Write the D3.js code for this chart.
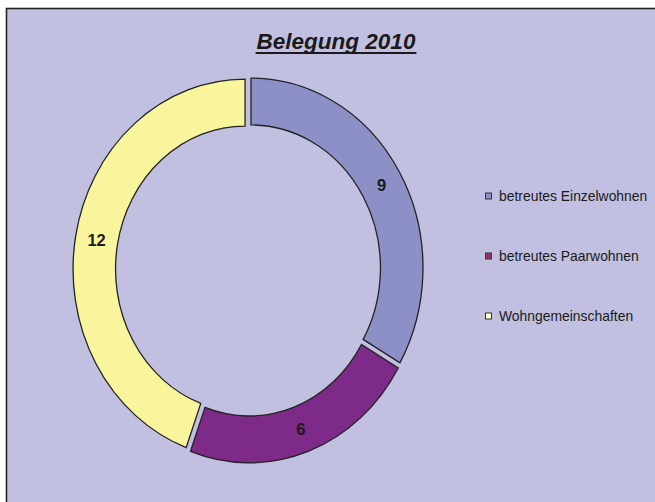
<!DOCTYPE html>
<html><head><meta charset="utf-8">
<script src="https://cdn.jsdelivr.net/npm/d3@7"></script>
<style>html,body{margin:0;padding:0;background:#fff}svg{display:block}</style>
</head><body>
<svg id="c" width="655" height="502"></svg>
<script>
const title = "Belegung 2010";
const categories = ["betreutes Einzelwohnen", "betreutes Paarwohnen", "Wohngemeinschaften"];
const values = [9, 6, 12];

const sliceColors = ["#8d8fc7", "#7e2a88", "#f8f59c"];
const legendColors = ["#8f92c9", "#993366", "#ffffcc"];

const svg = d3.select("#c");
const W = 655, H = 502;

// background + frame
svg.append("rect").attr("x", 0).attr("y", 0).attr("width", W).attr("height", H).attr("fill", "#ffffff");
svg.append("rect").attr("x", 6.5).attr("y", 8.5).attr("width", W).attr("height", H)
  .attr("fill", "#c1c0e0").attr("stroke", "#222").attr("stroke-width", 1.6);

// title
const t = svg.append("text").attr("x", 336).attr("y", 49).attr("text-anchor", "middle")
  .attr("font-family", "Liberation Sans, Arial, sans-serif").attr("font-weight", "bold")
  .attr("font-style", "italic").attr("font-size", 22.5).attr("fill", "#1a1a1a").text(title);
const tw = t.node().getComputedTextLength();
svg.append("line").attr("x1", 336 - tw / 2 - 1).attr("x2", 336 + tw / 2 + 1)
  .attr("y1", 53).attr("y2", 53).attr("stroke", "#1a1a1a").attr("stroke-width", 2);

// donut
const cx = 248.2, cy = 269.7, R = 172, r = 129.5, k = 1.104, explode = 3.2;
const pie = d3.pie().sort(null).value(d => d)(values);
const arc = d3.arc().innerRadius(r).outerRadius(R);
const g = svg.append("g").attr("transform", `translate(${cx},${cy}) scale(1,${k})`);
const mid = d => (d.startAngle + d.endAngle) / 2;
g.selectAll("path").data(pie).join("path")
  .attr("d", arc)
  .attr("transform", d => `translate(${explode * Math.sin(mid(d))},${-explode * Math.cos(mid(d))})`)
  .attr("fill", (d, i) => sliceColors[i])
  .attr("stroke", "#222").attr("stroke-width", 1.3)
  .attr("vector-effect", "non-scaling-stroke");

// data labels
const rl = (R + r) / 2 + explode;
svg.selectAll("text.lbl").data(pie).join("text").attr("class", "lbl")
  .attr("x", d => cx + rl * Math.sin(mid(d)))
  .attr("y", d => cy - k * rl * Math.cos(mid(d)))
  .attr("dy", "0.36em").attr("text-anchor", "middle")
  .attr("font-family", "Liberation Sans, Arial, sans-serif").attr("font-weight", "bold")
  .attr("font-size", 16.5).attr("fill", "#1a1a1a")
  .text(d => d.data);

// legend
const ly = d3.scalePoint().domain(categories).range([196, 316]);
const lg = svg.append("g").selectAll("g").data(categories).join("g")
  .attr("transform", d => `translate(485.5,${ly(d)})`);
lg.append("rect").attr("x", 0).attr("y", -3).attr("width", 6).attr("height", 6)
  .attr("fill", (d, i) => legendColors[i]).attr("stroke", "#333").attr("stroke-width", 1);
lg.append("text").attr("x", 13.5).attr("y", 5)
  .attr("font-family", "Liberation Sans, Arial, sans-serif").attr("font-size", 13.9)
  .attr("fill", "#1a1a1a").text(d => d);
</script>
</body></html>
